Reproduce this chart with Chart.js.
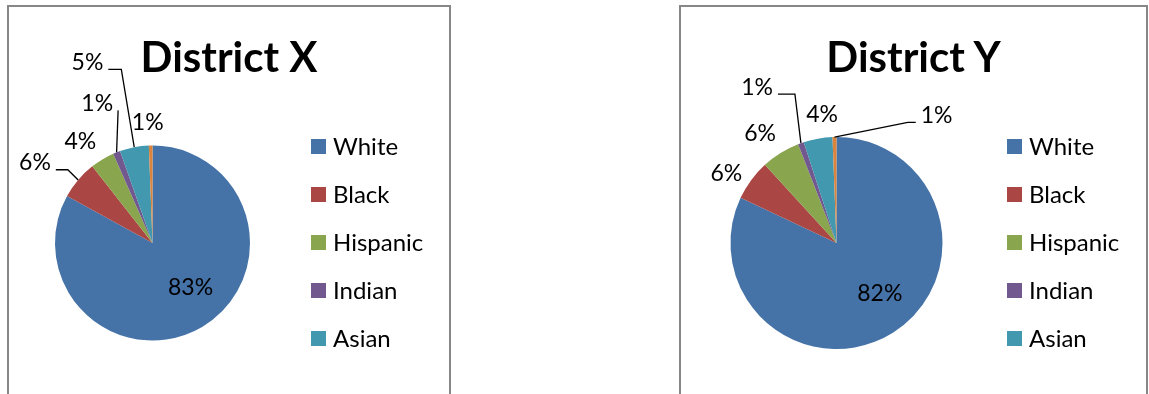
<!DOCTYPE html>
<html>
<head>
<meta charset="utf-8">
<script src="https://cdn.jsdelivr.net/npm/chart.js@4.4.1/dist/chart.umd.min.js"></script>
<style>
  body { margin: 0; background: #fff; width: 1149px; height: 394px; overflow: hidden; font-family: Lato, 'Open Sans', sans-serif; color: #000; }
  .panel { position: absolute; top: 5px; height: 430px; }
  .panel .frame { position: absolute; left: 0; top: 0; right: 0; bottom: 0; border: 2px solid #878787; box-sizing: border-box; }
  .panel canvas { position: absolute; left: 0; top: 0; }
  .title { position: absolute; left: 0; right: 0; top: 30px; text-align: center; font-weight: bold; font-size: 42px; line-height: 1; }
  .legend { position: absolute; top: 117px; margin: 0; padding: 0; list-style: none; }
  .legend li { display: flex; align-items: center; height: 48px; font-size: 24px; line-height: 1; }
  .legend .swatch { display: inline-block; width: 15px; height: 15px; margin-right: 7px; }
</style>
</head>
<body>
<div class="panel" id="panelX" style="left:7px; width:444px;">
  <div class="frame"></div>
  <canvas id="chartX" width="444" height="389"></canvas>
  <div class="title" id="titleX"></div>
  <ul class="legend" id="legendX" style="left:304px;"></ul>
</div>
<div class="panel" id="panelY" style="left:679px; width:469px;">
  <div class="frame"></div>
  <canvas id="chartY" width="469" height="389"></canvas>
  <div class="title" id="titleY"></div>
  <ul class="legend" id="legendY" style="left:328px;"></ul>
</div>
<script>
const categories = ['White', 'Black', 'Hispanic', 'Indian', 'Asian', 'Other'];
const legendCategories = ['White', 'Black', 'Hispanic', 'Indian', 'Asian'];
const districtX = [83.0, 6.4, 4.0, 1.2, 4.8, 0.6];
const districtY = [82.0, 6.2, 5.9, 0.9, 4.4, 0.6];
const titleX = 'District X';
const titleY = 'District Y';
const sliceColors = ['#4572A7', '#AA4643', '#89A54E', '#71588F', '#4198AF', '#DB843D'];

// where each percentage sits: distance in radii, turn (deg) off the slice middle, leader = elbow length
const labelLayoutX = [
  { dist: 0.6, turn: -10 },
  { dist: 1.46, turn: -6, leader: 12 },
  { dist: 1.28, turn: -4.4 },
  { dist: 1.54, turn: 0, leader: 0 },
  { dist: 1.97, turn: -9, leader: 13 },
  { dist: 1.24, turn: -1.2 }
];
const labelLayoutY = [
  { dist: 0.63, turn: -8 },
  { dist: 1.23, turn: -4 },
  { dist: 1.26, turn: -3 },
  { dist: 1.65, turn: -7.4, leader: 17 },
  { dist: 1.22, turn: 3.7 },
  { dist: 1.53, turn: 39.2, leader: 8 }
];

const sliceLabels = {
  id: 'sliceLabels',
  afterDatasetsDraw(chart, args, opts) {
    const ctx = chart.ctx;
    const meta = chart.getDatasetMeta(0);
    const values = chart.data.datasets[0].data;
    const total = values.reduce((a, b) => a + b, 0);
    ctx.save();
    ctx.font = opts.font;
    ctx.fillStyle = '#000';
    ctx.strokeStyle = '#000';
    ctx.lineWidth = 1.3;
    ctx.textAlign = 'center';
    ctx.textBaseline = 'middle';
    meta.data.forEach((arc, i) => {
      const p = arc.getProps(['x', 'y', 'startAngle', 'endAngle', 'outerRadius'], true);
      const spot = opts.layout[i];
      const mid = (p.startAngle + p.endAngle) / 2;
      const a = mid + spot.turn * Math.PI / 180;
      const tx = p.x + Math.cos(a) * spot.dist * p.outerRadius;
      const ty = p.y + Math.sin(a) * spot.dist * p.outerRadius;
      const text = Math.round(values[i] / total * 100) + '%';
      ctx.fillText(text, tx, ty);
      if (spot.leader !== undefined) {
        const ex = p.x + Math.cos(mid) * p.outerRadius;
        const ey = p.y + Math.sin(mid) * p.outerRadius;
        const w = ctx.measureText(text).width;
        const dir = tx < ex ? 1 : -1;
        const sx = tx + dir * (w / 2 + 5);
        const sy = ty + 7;
        ctx.beginPath();
        ctx.moveTo(sx, sy);
        ctx.lineTo(sx + dir * spot.leader, sy);
        ctx.lineTo(ex, ey);
        ctx.stroke();
      }
    });
    ctx.restore();
  }
};

const htmlLegend = {
  id: 'htmlLegend',
  afterUpdate(chart, args, opts) {
    const ul = document.getElementById(opts.containerID);
    ul.innerHTML = '';
    const items = chart.options.plugins.legend.labels.generateLabels(chart)
      .filter(item => legendCategories.includes(item.text));
    items.forEach(item => {
      const li = document.createElement('li');
      const box = document.createElement('span');
      box.className = 'swatch';
      box.style.background = item.fillStyle;
      const label = document.createElement('span');
      label.textContent = item.text;
      li.append(box, label);
      ul.appendChild(li);
    });
  }
};

function makePie(canvasId, values, title, titleId, legendId, layout, padding, radius) {
  document.getElementById(titleId).textContent = title;
  return new Chart(document.getElementById(canvasId), {
    type: 'pie',
    data: {
      labels: categories,
      datasets: [{
        data: values,
        backgroundColor: sliceColors,
        borderWidth: 0
      }]
    },
    options: {
      responsive: false,
      animation: false,
      events: [],
      radius: radius,
      layout: { padding: padding },
      plugins: {
        legend: { display: false },
        tooltip: { enabled: false },
        htmlLegend: { containerID: legendId },
        sliceLabels: { layout: layout, font: '23px Lato, "Open Sans", sans-serif' }
      }
    },
    plugins: [htmlLegend, sliceLabels]
  });
}

makePie('chartX', districtX, titleX, 'titleX', 'legendX', labelLayoutX,
  { left: 48, right: 201, top: 140, bottom: 53 }, 97.5);
makePie('chartY', districtY, titleY, 'titleY', 'legendY', labelLayoutY,
  { left: 51.5, right: 205.5, top: 132, bottom: 45 }, 106);
</script>
</body>
</html>
